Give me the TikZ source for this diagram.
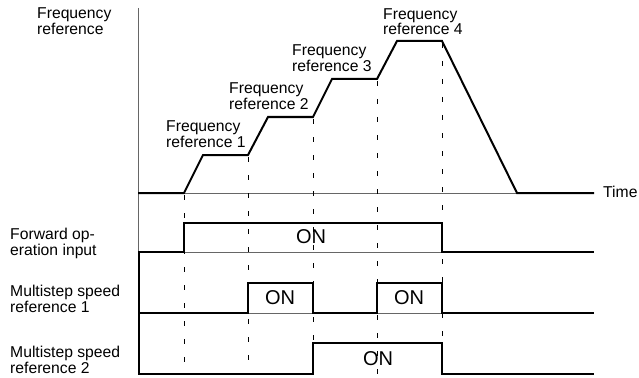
\documentclass[tikz,border=0pt]{standalone}
\usepackage{fontspec}
\setmainfont{Liberation Sans}
\usepackage{tikz}

\begin{document}
\begin{tikzpicture}[x=1pt,y=-1pt,
    axis/.style={line width=1pt,gray!80!black},
    sig/.style={line width=2pt,line join=miter},
    guide/.style={line width=1pt,dash pattern=on 5pt off 13pt},
    lbl/.style={anchor=north west,inner sep=0pt,align=left,font=\fontsize{15.7}{16}\selectfont},
    onlbl/.style={inner sep=0pt,font=\fontsize{20}{20}\selectfont}]
        \useasboundingbox (0,0) rectangle (639,377);
        % axes
        \draw[axis](138.5,8)--(138.5,252);
        \draw[axis](138,193)--(594,193);
        \draw[axis](138,252)--(594,252);
        \draw[axis](138,313)--(594,313);
        % guide lines
        \foreach \x/\y in {184/193,248/155,313/117,377/79,442/41}
            \draw[guide](\x,\y+2)--(\x,374);
        % frequency reference
        \draw[sig](138,193)--(184,193)--(203,155)--(248,155)--(268,117)--(313,117)
            --(332,79)--(377,79)--(397,41)--(442,41)--(517,193)--(594,193);
        % inputs
        \draw[sig](184,252)--(184,223)--(442,223)--(442,252)--(594,252);
        \draw[sig](138,252)--(184,252);
        \draw[sig](138.5,252)--(138.5,374);
        \draw[sig](138,313)--(248,313)--(248,283)--(313,283)--(313,313)--(377,313)
            --(377,283)--(442,283)--(442,313)--(594,313);
        \draw[sig](138,374)--(313,374)--(313,343)--(442,343)--(442,374)--(594,374);
        % labels
        \node[lbl] (freq) at (37,7) {Frequency\\reference};
        \node[lbl] (ref1) at (166,120) {Frequency\\reference 1};
        \node[lbl] (ref2) at (229,82) {Frequency\\reference 2};
        \node[lbl] (ref3) at (292,44) {Frequency\\reference 3};
        \node[lbl] (ref4) at (383,8) {Frequency\\reference 4};
        \node[lbl,anchor=west] (time) at (603,192) {Time};
        \node[lbl] (fwd) at (10,228) {Forward op-\\eration input};
        \node[lbl] (ms1) at (10,285) {Multistep speed\\reference 1};
        \node[lbl] (ms2) at (10,346) {Multistep speed\\reference 2};
        \node[onlbl] (onfwd) at (311,237) {ON};
        \node[onlbl] (onms1a) at (280,298) {ON};
        \node[onlbl] (onms1b) at (409,298) {ON};
        \node[onlbl] (onms2) at (378,359) {ON};
    \end{tikzpicture}
\end{document}
